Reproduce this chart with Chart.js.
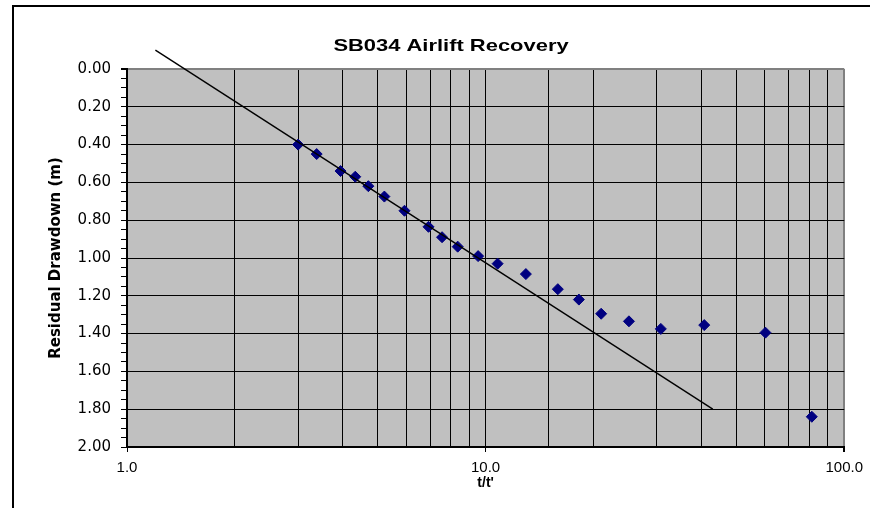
<!DOCTYPE html>
<html>
<head>
<meta charset="utf-8">
<script src="https://cdn.jsdelivr.net/npm/chart.js@4/dist/chart.umd.min.js"></script>
<style>
  html, body { margin: 0; padding: 0; background: #fff; overflow: hidden; }
  #wrap { width: 870px; height: 508px; }
</style>
</head>
<body>
<div id="wrap"><canvas id="c" width="870" height="508"></canvas></div>
<script>
// Recovery readings: time ratio t/t' and residual drawdown (m)
const tRatio = [3.00, 3.38, 3.94, 4.33, 4.71, 5.22, 5.94, 6.93, 7.56, 8.36, 9.53,
                10.8, 12.95, 15.9, 18.2, 21.0, 25.1, 30.8, 40.7, 60.3, 81.2];
const drawdown = [0.40, 0.45, 0.54, 0.57, 0.62, 0.675, 0.75, 0.835, 0.89, 0.94, 0.99,
                  1.03, 1.085, 1.165, 1.22, 1.295, 1.335, 1.375, 1.355, 1.395, 1.84];

// Straight-line (Cooper-Jacob style) fit drawn across the early data
const fitT = [1.2, 43.0];
const fitS = [-0.10, 1.80];

// Axis tick labels
const xLabelValues = [1, 10, 100];
const yMajorStep = 0.2;

const chartTitle = 'SB034 Airlift Recovery';

const frameAndBackground = {
  id: 'frameAndBackground',
  beforeDraw(chart) {
    const { ctx, chartArea } = chart;
    ctx.save();
    ctx.fillStyle = '#c0c0c0';
    ctx.fillRect(chartArea.left, chartArea.top,
                 chartArea.right - chartArea.left, chartArea.bottom - chartArea.top);
    ctx.strokeStyle = '#000';
    ctx.lineWidth = 2;
    ctx.strokeRect(13, 6, 900, 560);
    // heading, slightly widened
    ctx.fillStyle = '#000';
    ctx.font = 'bold 17px "Liberation Sans", Arial, sans-serif';
    ctx.textAlign = 'center';
    ctx.textBaseline = 'alphabetic';
    ctx.translate(451, 51);
    ctx.scale(1.29, 1);
    ctx.fillText(chartTitle, 0, 0);
    ctx.restore();
  }
};

const isYMajor = v => Math.round(v * 100) % Math.round(yMajorStep * 100) === 0;

new Chart(document.getElementById('c'), {
  type: 'scatter',
  data: {
    datasets: [
      {
        label: 'Fit',
        data: fitT.map((t, i) => ({ x: t, y: fitS[i] })),
        showLine: true,
        borderColor: '#000',
        borderWidth: 1.4,
        pointRadius: 0,
        fill: false,
        clip: false,
        order: 0
      },
      {
        label: 'Residual drawdown',
        data: tRatio.map((t, i) => ({ x: t, y: drawdown[i] })),
        pointStyle: 'rectRot',
        pointRadius: 5.5,
        pointBackgroundColor: '#000080',
        pointBorderColor: '#000080',
        pointBorderWidth: 1,
        showLine: false,
        order: 1
      }
    ]
  },
  options: {
    responsive: false,
    animation: false,
    devicePixelRatio: 1,
    layout: { padding: { left: 0, right: 22, top: 69, bottom: 0 } },
    plugins: {
      legend: { display: false },
      tooltip: { enabled: false },
      title: { display: false }
    },
    scales: {
      x: {
        type: 'logarithmic',
        position: 'bottom',
        min: 1,
        max: 100,
        afterFit(scale) { scale.height = 61; },
        ticks: {
          autoSkip: false,
          maxRotation: 0,
          minRotation: 0,
          padding: 7,
          color: '#000',
          font: { family: '"Liberation Sans", Arial, sans-serif', size: 15 },
          callback: v => xLabelValues.includes(v) ? Number(v).toFixed(1) : ''
        },
        grid: {
          color: c => c.tick.value === 100 ? '#808080' : '#000',
          lineWidth: c => c.tick.value === 100 ? 2 : 1,
          tickColor: c => xLabelValues.includes(c.tick.value) ? '#000' : 'rgba(0,0,0,0)',
          tickLength: 5
        },
        border: { color: '#000', width: 2 },
        title: {
          display: true,
          text: "t/t'",
          color: '#000',
          font: { family: '"Liberation Sans", Arial, sans-serif', size: 14, weight: 'bold' },
          padding: { top: 0, bottom: 16 }
        }
      },
      y: {
        type: 'linear',
        reverse: true,
        min: 0,
        max: 2,
        afterFit(scale) { scale.width = 127; },
        ticks: {
          stepSize: 0.05,
          autoSkip: false,
          padding: 10,
          color: '#000',
          font: { family: '"DejaVu Sans", sans-serif', size: 15 },
          callback: v => isYMajor(v) ? Number(v).toFixed(2) : ''
        },
        grid: {
          color: c => {
            const v = c.tick.value;
            if (!isYMajor(v)) return 'rgba(0,0,0,0)';
            return Math.abs(v) < 1e-9 ? '#808080' : '#000';
          },
          lineWidth: c => Math.abs(c.tick.value) < 1e-9 ? 2 : 1,
          tickColor: '#000',
          tickLength: 6
        },
        border: { color: '#000', width: 2 },
        title: {
          display: true,
          text: 'Residual Drawdown (m)',
          color: '#000',
          font: { family: '"DejaVu Sans", sans-serif', size: 15, weight: 'bold' },
          padding: { top: 47, bottom: 0 }
        }
      }
    }
  },
  plugins: [frameAndBackground]
});
</script>
</body>
</html>
